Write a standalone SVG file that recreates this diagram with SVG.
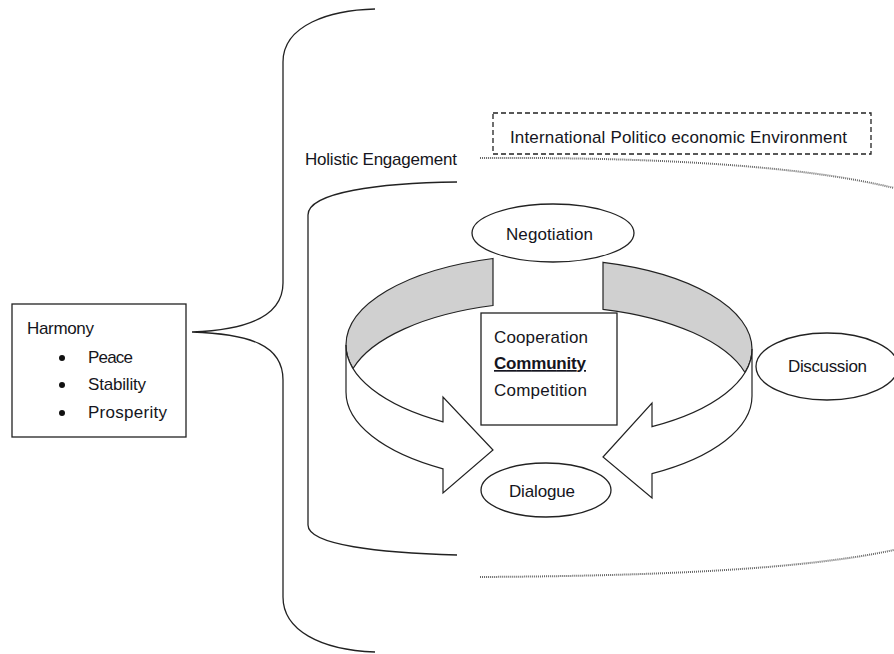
<svg xmlns="http://www.w3.org/2000/svg" width="894" height="654" viewBox="0 0 894 654">
<style>
text{font-family:"Liberation Sans",Arial,sans-serif;font-size:17px;fill:#151520}
.ln{fill:none;stroke:#222;stroke-width:1.3}
.dot{fill:none;stroke:#666;stroke-width:2;stroke-dasharray:1 1}
.box{fill:#fff;stroke:#222;stroke-width:1.3}
.gray{fill:#d0d0d0;stroke:#222;stroke-width:1.2}
.band{fill:#fff;stroke:#222;stroke-width:1.2}
</style>
<rect width="894" height="654" fill="#fff"/>
<g id="connectors">
<path class="ln" d="M375,9 C330,10 283,25 283,62 L283,283 C283,315 250,330 192,332 C250,334 283,345 283,380 L283,597 C283,630 320,650 375,652"/>
<path class="ln" d="M457,182 C380,183 308,192 308,215 L308,525 C308,545 380,553 457,555"/>
<path class="dot" d="M480,158 C650,157 800,165 894,188"/>
<path class="dot" d="M480,577 C650,576 800,570 894,550"/>
</g>
<g id="ring">
<path class="gray" d="M493,258.5 A203,90 0 0 0 346,345 A203,90 0 0 0 353,368.5 A203,90 0 0 1 493,305.5 Z"/>
<path class="band" d="M346,345 A203,90 0 0 0 443,421.8 L443,397 L493,450 L443,493 L443,468.8 A203,90 0 0 1 346,392 Z"/>
<path class="gray" d="M603,262.3 A203,90 0 0 1 752,349 A203,90 0 0 1 745,372.5 A203,90 0 0 0 603,309.3 Z"/>
<path class="band" d="M752,349 A203,90 0 0 1 652,426.6 L652,403 L603,457 L652,498 L652,473.6 A203,90 0 0 0 752,396 Z"/>
</g>
<g id="harmony">
<rect class="box" x="12" y="304" width="174" height="133"/>
<text x="27" y="334" textLength="67">Harmony</text>
<circle cx="62" cy="358" r="3" fill="#111"/>
<circle cx="62" cy="385" r="3" fill="#111"/>
<circle cx="62" cy="413" r="3" fill="#111"/>
<text x="88" y="363" textLength="45">Peace</text>
<text x="88" y="390" textLength="58">Stability</text>
<text x="88" y="418" textLength="79">Prosperity</text>
</g>
<g id="holistic">
<text x="305" y="165" textLength="152">Holistic Engagement</text>
</g>
<g id="environment">
<rect x="493" y="113" width="378" height="41" fill="none" stroke="#222" stroke-width="1.3" stroke-dasharray="5 3"/>
<text x="510" y="143" textLength="337">International Politico economic Environment</text>
</g>
<g id="negotiation">
<ellipse class="box" cx="553" cy="233" rx="81" ry="29"/>
<text x="506" y="240" textLength="87">Negotiation</text>
</g>
<g id="community">
<rect class="box" x="481" y="313" width="136" height="112"/>
<text x="494" y="343" textLength="94">Cooperation</text>
<text x="494" y="369" font-weight="bold" text-decoration="underline" textLength="92">Community</text>
<text x="494" y="396" textLength="93">Competition</text>
</g>
<g id="discussion">
<ellipse class="box" cx="827" cy="366.5" rx="71" ry="33.5"/>
<text x="788" y="372" textLength="79">Discussion</text>
</g>
<g id="dialogue">
<ellipse class="box" cx="546" cy="490" rx="65" ry="27"/>
<text x="509" y="497" textLength="66">Dialogue</text>
</g>
</svg>
